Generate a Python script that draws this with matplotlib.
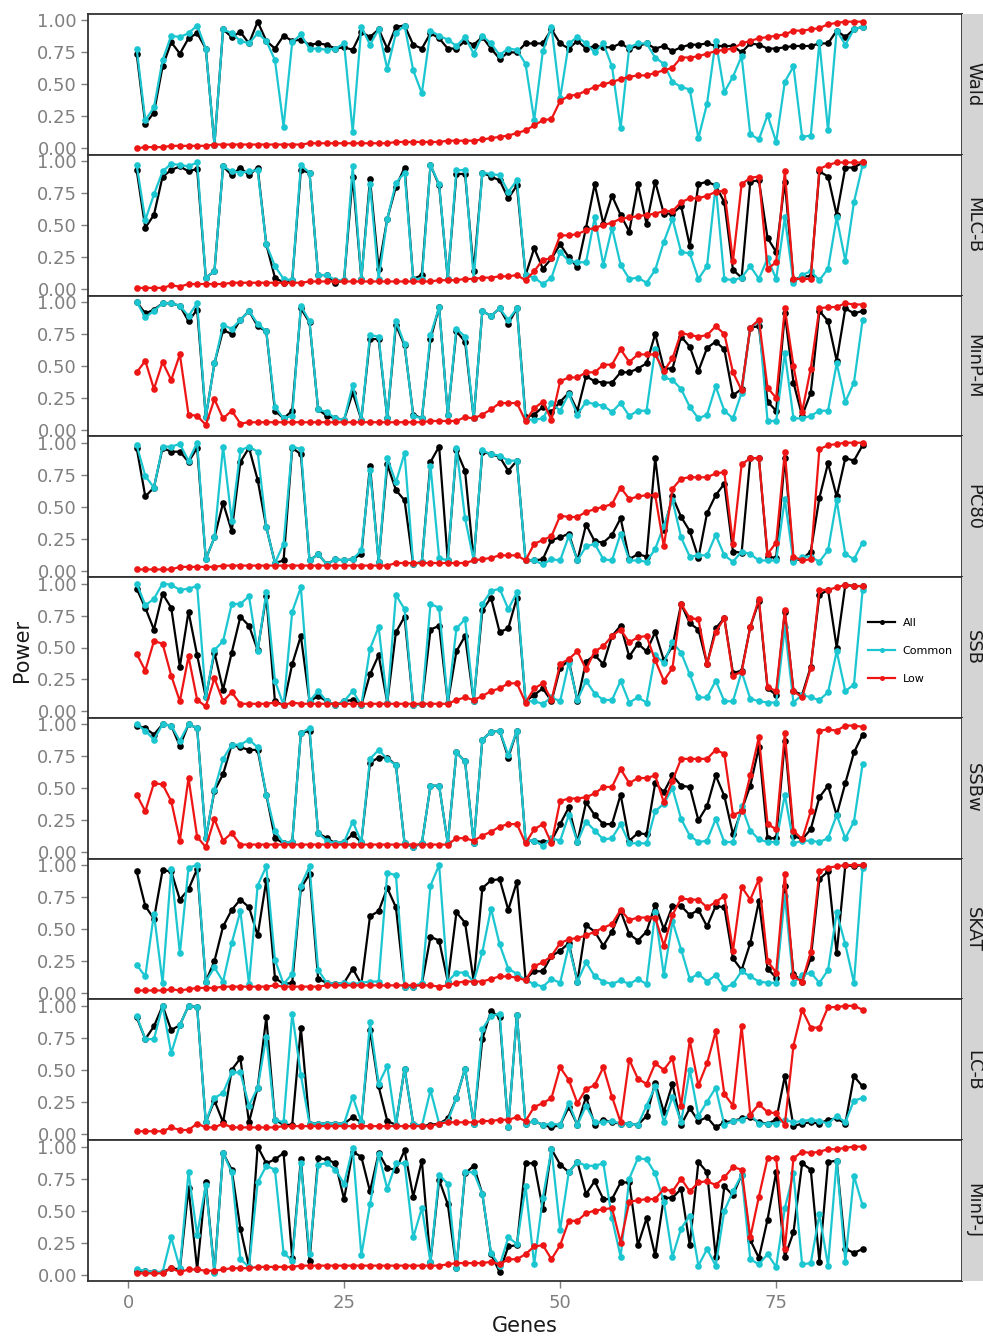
import matplotlib
matplotlib.use("Agg")
import matplotlib.pyplot as plt

genes = list(range(1, 86))
series_names = ["All", "Common", "Low"]
methods = ["Wald", "MLC-B", "MinP-M", "PC80", "SSB", "SSBw", "SKAT", "LC-B", "MinP-J"]

wald_all = [0.74, 0.19, 0.28, 0.64, 0.83, 0.74, 0.86, 0.90, 0.78, 0.03, 0.93, 0.87, 0.91, 0.82, 0.99, 0.84, 0.78, 0.88, 0.84, 0.85,
            0.81, 0.82, 0.81, 0.78, 0.79, 0.77, 0.91, 0.87, 0.93, 0.78, 0.95, 0.96, 0.81, 0.78, 0.90, 0.86, 0.78, 0.78, 0.84, 0.81,
            0.87, 0.78, 0.70, 0.75, 0.75, 0.82, 0.82, 0.82, 0.93, 0.82, 0.78, 0.84, 0.78, 0.80, 0.79, 0.79, 0.82, 0.78, 0.80, 0.82,
            0.78, 0.80, 0.76, 0.79, 0.81, 0.81, 0.82, 0.80, 0.80, 0.80, 0.75, 0.82, 0.81, 0.78, 0.78, 0.79, 0.80, 0.80, 0.80, 0.82,
            0.82, 0.92, 0.87, 0.93, 0.95]
wald_common = [0.78, 0.22, 0.32, 0.69, 0.88, 0.87, 0.90, 0.96, 0.78, 0.03, 0.93, 0.90, 0.84, 0.82, 0.90, 0.84, 0.69, 0.17, 0.83, 0.89,
               0.78, 0.78, 0.77, 0.78, 0.82, 0.13, 0.95, 0.81, 0.93, 0.62, 0.90, 0.96, 0.61, 0.43, 0.92, 0.88, 0.85, 0.80, 0.87, 0.74,
               0.88, 0.82, 0.73, 0.78, 0.77, 0.66, 0.22, 0.76, 0.95, 0.39, 0.82, 0.87, 0.82, 0.75, 0.82, 0.64, 0.16, 0.79, 0.82, 0.82,
               0.71, 0.66, 0.52, 0.48, 0.46, 0.08, 0.35, 0.84, 0.44, 0.56, 0.72, 0.11, 0.07, 0.26, 0.05, 0.52, 0.64, 0.09, 0.10, 0.83,
               0.14, 0.92, 0.81, 0.93, 0.95]
wald_low = [0.00, 0.01, 0.01, 0.01, 0.02, 0.02, 0.02, 0.02, 0.02, 0.03, 0.03, 0.03, 0.03, 0.03, 0.03, 0.03, 0.03, 0.03, 0.03, 0.03,
            0.04, 0.04, 0.04, 0.04, 0.04, 0.04, 0.04, 0.04, 0.04, 0.04, 0.05, 0.05, 0.05, 0.05, 0.05, 0.05, 0.06, 0.06, 0.06, 0.06,
            0.07, 0.08, 0.09, 0.10, 0.12, 0.14, 0.18, 0.22, 0.23, 0.37, 0.41, 0.42, 0.45, 0.48, 0.50, 0.52, 0.54, 0.56, 0.57, 0.57,
            0.59, 0.61, 0.63, 0.71, 0.71, 0.72, 0.74, 0.76, 0.77, 0.78, 0.82, 0.84, 0.86, 0.87, 0.88, 0.89, 0.92, 0.92, 0.93, 0.94,
            0.97, 0.98, 0.99, 0.99, 0.99]

mlcb_all = [0.93, 0.48, 0.58, 0.88, 0.93, 0.96, 0.92, 0.94, 0.09, 0.14, 0.96, 0.89, 0.95, 0.89, 0.95, 0.35, 0.09, 0.05, 0.07, 0.93,
            0.91, 0.11, 0.11, 0.05, 0.07, 0.88, 0.08, 0.86, 0.16, 0.55, 0.80, 0.95, 0.08, 0.11, 0.97, 0.81, 0.08, 0.90, 0.90, 0.14,
            0.91, 0.88, 0.85, 0.71, 0.81, 0.11, 0.32, 0.16, 0.24, 0.35, 0.25, 0.17, 0.48, 0.82, 0.51, 0.73, 0.58, 0.45, 0.82, 0.51,
            0.84, 0.59, 0.59, 0.65, 0.34, 0.82, 0.84, 0.81, 0.68, 0.15, 0.09, 0.84, 0.85, 0.40, 0.29, 0.84, 0.07, 0.10, 0.10, 0.92,
            0.88, 0.58, 0.95, 0.95, 0.99]
mlcb_common = [0.97, 0.54, 0.74, 0.92, 0.98, 0.97, 0.96, 0.99, 0.09, 0.14, 0.96, 0.92, 0.91, 0.92, 0.93, 0.35, 0.18, 0.08, 0.07, 0.97,
               0.91, 0.11, 0.11, 0.07, 0.07, 0.96, 0.08, 0.82, 0.08, 0.55, 0.83, 0.91, 0.08, 0.08, 0.97, 0.82, 0.08, 0.93, 0.93, 0.08,
               0.91, 0.90, 0.89, 0.76, 0.85, 0.11, 0.09, 0.04, 0.09, 0.29, 0.22, 0.21, 0.21, 0.56, 0.19, 0.48, 0.19, 0.08, 0.09, 0.05,
               0.15, 0.37, 0.55, 0.29, 0.28, 0.08, 0.18, 0.81, 0.08, 0.07, 0.09, 0.18, 0.08, 0.24, 0.08, 0.56, 0.05, 0.11, 0.14, 0.07,
               0.16, 0.56, 0.22, 0.68, 0.97]
mlcb_low = [0.01, 0.01, 0.01, 0.01, 0.03, 0.02, 0.04, 0.04, 0.04, 0.04, 0.04, 0.05, 0.05, 0.05, 0.05, 0.05, 0.05, 0.05, 0.05, 0.05,
            0.06, 0.06, 0.06, 0.06, 0.06, 0.06, 0.06, 0.06, 0.06, 0.06, 0.06, 0.06, 0.06, 0.06, 0.06, 0.07, 0.07, 0.07, 0.08, 0.08,
            0.09, 0.09, 0.10, 0.10, 0.11, 0.07, 0.14, 0.23, 0.24, 0.42, 0.42, 0.43, 0.46, 0.48, 0.50, 0.52, 0.55, 0.56, 0.57, 0.58,
            0.59, 0.61, 0.61, 0.68, 0.71, 0.71, 0.73, 0.76, 0.77, 0.22, 0.82, 0.87, 0.88, 0.16, 0.21, 0.92, 0.08, 0.08, 0.08, 0.94,
            0.97, 0.99, 0.99, 0.99, 0.99]

minpm_all = [1.00, 0.91, 0.94, 0.99, 0.99, 0.97, 0.85, 0.94, 0.10, 0.52, 0.78, 0.75, 0.86, 0.93, 0.81, 0.77, 0.15, 0.09, 0.15, 0.95,
             0.84, 0.16, 0.11, 0.09, 0.08, 0.29, 0.08, 0.71, 0.71, 0.09, 0.82, 0.66, 0.12, 0.09, 0.71, 0.96, 0.12, 0.77, 0.69, 0.09,
             0.93, 0.89, 0.95, 0.83, 0.95, 0.10, 0.12, 0.18, 0.14, 0.22, 0.29, 0.15, 0.42, 0.38, 0.37, 0.37, 0.45, 0.45, 0.48, 0.52,
             0.75, 0.48, 0.48, 0.73, 0.65, 0.46, 0.64, 0.69, 0.63, 0.27, 0.32, 0.80, 0.81, 0.22, 0.15, 0.91, 0.37, 0.11, 0.29, 0.93,
             0.85, 0.54, 0.95, 0.91, 0.93]
minpm_common = [1.00, 0.88, 0.93, 0.99, 0.99, 0.97, 0.89, 0.99, 0.10, 0.52, 0.82, 0.79, 0.86, 0.93, 0.83, 0.77, 0.18, 0.09, 0.11, 0.97,
                0.85, 0.16, 0.14, 0.09, 0.08, 0.35, 0.08, 0.74, 0.73, 0.09, 0.85, 0.67, 0.11, 0.09, 0.74, 0.96, 0.12, 0.79, 0.73, 0.09,
                0.93, 0.89, 0.95, 0.86, 0.95, 0.08, 0.08, 0.09, 0.21, 0.15, 0.28, 0.12, 0.22, 0.20, 0.19, 0.14, 0.21, 0.11, 0.15, 0.15,
                0.63, 0.41, 0.39, 0.32, 0.18, 0.09, 0.12, 0.34, 0.15, 0.09, 0.29, 0.80, 0.85, 0.07, 0.07, 0.60, 0.09, 0.09, 0.11, 0.15,
                0.15, 0.52, 0.22, 0.37, 0.86]
minpm_low = [0.45, 0.54, 0.32, 0.53, 0.39, 0.59, 0.12, 0.11, 0.04, 0.24, 0.09, 0.15, 0.05, 0.06, 0.06, 0.06, 0.06, 0.06, 0.06, 0.06,
             0.06, 0.06, 0.06, 0.06, 0.06, 0.06, 0.06, 0.06, 0.06, 0.06, 0.06, 0.06, 0.06, 0.06, 0.07, 0.07, 0.07, 0.07, 0.10, 0.09,
             0.12, 0.16, 0.21, 0.21, 0.21, 0.07, 0.17, 0.22, 0.08, 0.38, 0.41, 0.41, 0.45, 0.45, 0.51, 0.51, 0.63, 0.53, 0.59, 0.59,
             0.59, 0.46, 0.56, 0.76, 0.74, 0.73, 0.74, 0.81, 0.75, 0.45, 0.31, 0.80, 0.86, 0.33, 0.25, 0.95, 0.50, 0.14, 0.48, 0.95,
             0.96, 0.96, 0.99, 0.98, 0.98]

pc80_all = [0.96, 0.58, 0.65, 0.96, 0.93, 0.93, 0.85, 0.96, 0.09, 0.26, 0.53, 0.31, 0.85, 0.96, 0.71, 0.34, 0.06, 0.08, 0.96, 0.91,
            0.08, 0.13, 0.05, 0.09, 0.08, 0.09, 0.13, 0.82, 0.07, 0.83, 0.63, 0.55, 0.05, 0.07, 0.85, 0.97, 0.08, 0.94, 0.78, 0.08,
            0.93, 0.91, 0.89, 0.78, 0.86, 0.08, 0.08, 0.09, 0.24, 0.26, 0.29, 0.08, 0.36, 0.23, 0.22, 0.28, 0.41, 0.09, 0.13, 0.11,
            0.88, 0.32, 0.58, 0.42, 0.31, 0.10, 0.45, 0.59, 0.68, 0.15, 0.14, 0.88, 0.88, 0.11, 0.10, 0.88, 0.08, 0.09, 0.15, 0.57,
            0.84, 0.58, 0.88, 0.86, 0.98]
pc80_common = [0.98, 0.74, 0.65, 0.97, 0.97, 0.99, 0.86, 1.00, 0.09, 0.26, 0.97, 0.39, 0.94, 0.97, 0.93, 0.34, 0.06, 0.21, 0.97, 0.95,
               0.08, 0.13, 0.05, 0.09, 0.08, 0.09, 0.16, 0.79, 0.07, 0.88, 0.69, 0.92, 0.05, 0.07, 0.82, 0.10, 0.08, 0.96, 0.41, 0.08,
               0.94, 0.91, 0.90, 0.86, 0.86, 0.08, 0.08, 0.05, 0.09, 0.08, 0.27, 0.08, 0.19, 0.21, 0.09, 0.08, 0.29, 0.08, 0.08, 0.07,
               0.17, 0.35, 0.55, 0.26, 0.11, 0.12, 0.12, 0.28, 0.12, 0.07, 0.15, 0.13, 0.08, 0.08, 0.08, 0.56, 0.07, 0.11, 0.11, 0.07,
               0.16, 0.55, 0.13, 0.09, 0.22]
pc80_low = [0.01, 0.01, 0.01, 0.01, 0.01, 0.03, 0.03, 0.03, 0.03, 0.03, 0.04, 0.04, 0.04, 0.04, 0.04, 0.04, 0.04, 0.04, 0.04, 0.04,
            0.04, 0.04, 0.04, 0.04, 0.04, 0.04, 0.04, 0.04, 0.04, 0.04, 0.06, 0.06, 0.06, 0.06, 0.06, 0.06, 0.06, 0.06, 0.06, 0.08,
            0.09, 0.10, 0.12, 0.12, 0.12, 0.08, 0.21, 0.24, 0.27, 0.43, 0.42, 0.42, 0.46, 0.48, 0.50, 0.52, 0.65, 0.56, 0.58, 0.59,
            0.59, 0.19, 0.64, 0.72, 0.73, 0.73, 0.73, 0.76, 0.77, 0.21, 0.83, 0.88, 0.88, 0.13, 0.22, 0.93, 0.11, 0.08, 0.09, 0.95,
            0.98, 0.99, 1.00, 1.00, 1.00]

ssb_all = [0.96, 0.81, 0.64, 0.92, 0.81, 0.35, 0.78, 0.44, 0.11, 0.46, 0.17, 0.46, 0.74, 0.67, 0.48, 0.90, 0.08, 0.05, 0.37, 0.59,
           0.08, 0.12, 0.08, 0.05, 0.08, 0.09, 0.05, 0.29, 0.44, 0.07, 0.62, 0.74, 0.05, 0.06, 0.64, 0.67, 0.07, 0.47, 0.59, 0.08,
           0.79, 0.89, 0.62, 0.65, 0.89, 0.08, 0.13, 0.18, 0.08, 0.34, 0.40, 0.08, 0.39, 0.44, 0.37, 0.59, 0.67, 0.43, 0.53, 0.47,
           0.62, 0.40, 0.51, 0.84, 0.69, 0.64, 0.37, 0.65, 0.73, 0.30, 0.32, 0.66, 0.86, 0.18, 0.13, 0.78, 0.16, 0.13, 0.35, 0.91,
           0.95, 0.50, 0.99, 0.98, 0.98]
ssb_common = [1.00, 0.83, 0.88, 1.00, 0.99, 0.95, 0.96, 0.98, 0.11, 0.48, 0.55, 0.84, 0.84, 0.90, 0.47, 0.93, 0.24, 0.05, 0.78, 0.97,
              0.08, 0.16, 0.08, 0.05, 0.08, 0.16, 0.05, 0.49, 0.66, 0.07, 0.91, 0.80, 0.05, 0.06, 0.84, 0.81, 0.07, 0.65, 0.72, 0.08,
              0.84, 0.94, 0.96, 0.80, 0.93, 0.08, 0.08, 0.06, 0.11, 0.08, 0.38, 0.09, 0.24, 0.14, 0.09, 0.09, 0.24, 0.07, 0.11, 0.07,
              0.44, 0.38, 0.54, 0.46, 0.29, 0.11, 0.11, 0.24, 0.08, 0.08, 0.31, 0.10, 0.08, 0.07, 0.07, 0.66, 0.07, 0.13, 0.11, 0.09,
              0.15, 0.47, 0.16, 0.21, 0.95]
ssb_low = [0.45, 0.32, 0.55, 0.53, 0.28, 0.08, 0.43, 0.09, 0.04, 0.26, 0.08, 0.15, 0.06, 0.06, 0.06, 0.06, 0.07, 0.05, 0.07, 0.06,
           0.06, 0.06, 0.06, 0.06, 0.06, 0.06, 0.06, 0.06, 0.06, 0.06, 0.06, 0.06, 0.06, 0.06, 0.06, 0.06, 0.06, 0.09, 0.11, 0.09,
           0.12, 0.16, 0.18, 0.22, 0.22, 0.07, 0.18, 0.22, 0.09, 0.37, 0.41, 0.47, 0.33, 0.47, 0.51, 0.59, 0.64, 0.54, 0.58, 0.59,
           0.40, 0.24, 0.34, 0.84, 0.73, 0.72, 0.37, 0.62, 0.73, 0.28, 0.31, 0.66, 0.88, 0.19, 0.16, 0.79, 0.16, 0.11, 0.34, 0.95,
           0.95, 0.97, 0.99, 0.98, 0.98]

ssbw_all = [0.99, 0.97, 0.92, 1.00, 0.99, 0.83, 1.00, 0.97, 0.11, 0.48, 0.61, 0.84, 0.82, 0.80, 0.80, 0.45, 0.11, 0.07, 0.08, 0.93,
            0.95, 0.15, 0.11, 0.07, 0.08, 0.14, 0.08, 0.70, 0.74, 0.74, 0.68, 0.07, 0.04, 0.07, 0.52, 0.52, 0.07, 0.78, 0.71, 0.07,
            0.88, 0.94, 0.95, 0.74, 0.95, 0.09, 0.09, 0.08, 0.09, 0.22, 0.35, 0.08, 0.39, 0.29, 0.22, 0.22, 0.45, 0.09, 0.15, 0.14,
            0.54, 0.47, 0.60, 0.52, 0.51, 0.25, 0.36, 0.60, 0.44, 0.14, 0.33, 0.52, 0.82, 0.11, 0.11, 0.87, 0.13, 0.10, 0.18, 0.43,
            0.52, 0.29, 0.54, 0.78, 0.92]
ssbw_common = [1.00, 0.95, 0.88, 1.00, 0.99, 0.87, 1.00, 0.97, 0.11, 0.49, 0.73, 0.84, 0.84, 0.88, 0.82, 0.45, 0.17, 0.07, 0.08, 0.93,
               0.97, 0.15, 0.09, 0.07, 0.08, 0.24, 0.08, 0.73, 0.80, 0.73, 0.68, 0.07, 0.04, 0.07, 0.52, 0.52, 0.07, 0.78, 0.71, 0.07,
               0.88, 0.94, 0.95, 0.76, 0.95, 0.09, 0.09, 0.05, 0.11, 0.09, 0.29, 0.08, 0.24, 0.17, 0.10, 0.11, 0.22, 0.07, 0.07, 0.07,
               0.32, 0.38, 0.50, 0.26, 0.13, 0.08, 0.09, 0.26, 0.08, 0.08, 0.36, 0.17, 0.10, 0.08, 0.08, 0.45, 0.07, 0.09, 0.09, 0.08,
               0.11, 0.29, 0.11, 0.24, 0.69]
ssbw_low = [0.45, 0.32, 0.54, 0.53, 0.40, 0.09, 0.58, 0.12, 0.04, 0.26, 0.09, 0.15, 0.06, 0.06, 0.06, 0.06, 0.06, 0.06, 0.06, 0.06,
            0.06, 0.06, 0.06, 0.06, 0.06, 0.06, 0.06, 0.06, 0.06, 0.06, 0.06, 0.06, 0.06, 0.06, 0.06, 0.06, 0.06, 0.11, 0.11, 0.09,
            0.13, 0.16, 0.20, 0.22, 0.22, 0.07, 0.18, 0.22, 0.07, 0.40, 0.42, 0.42, 0.43, 0.46, 0.51, 0.51, 0.65, 0.54, 0.58, 0.58,
            0.60, 0.39, 0.56, 0.73, 0.73, 0.73, 0.73, 0.80, 0.77, 0.29, 0.32, 0.60, 0.90, 0.22, 0.18, 0.93, 0.17, 0.10, 0.32, 0.95,
            0.96, 0.95, 0.99, 0.99, 0.98]

skat_all = [0.95, 0.68, 0.58, 0.96, 0.95, 0.73, 0.81, 0.97, 0.09, 0.25, 0.52, 0.65, 0.73, 0.67, 0.45, 0.88, 0.12, 0.07, 0.08, 0.82,
            0.93, 0.11, 0.08, 0.07, 0.08, 0.19, 0.07, 0.60, 0.64, 0.82, 0.67, 0.05, 0.05, 0.07, 0.44, 0.41, 0.09, 0.63, 0.55, 0.09,
            0.82, 0.88, 0.89, 0.65, 0.87, 0.11, 0.17, 0.17, 0.29, 0.33, 0.39, 0.09, 0.53, 0.48, 0.37, 0.48, 0.64, 0.46, 0.41, 0.48,
            0.69, 0.50, 0.68, 0.68, 0.61, 0.65, 0.52, 0.68, 0.67, 0.27, 0.18, 0.39, 0.72, 0.19, 0.12, 0.84, 0.15, 0.09, 0.27, 0.89,
            0.95, 0.31, 1.00, 0.99, 1.00]
skat_common = [0.22, 0.13, 0.62, 0.08, 0.97, 0.31, 0.98, 1.00, 0.09, 0.20, 0.09, 0.39, 0.64, 0.07, 0.84, 0.99, 0.26, 0.07, 0.15, 0.84,
               0.99, 0.18, 0.08, 0.07, 0.08, 0.07, 0.08, 0.09, 0.09, 0.94, 0.92, 0.05, 0.05, 0.08, 0.84, 1.00, 0.09, 0.16, 0.16, 0.09,
               0.32, 0.66, 0.38, 0.19, 0.15, 0.10, 0.07, 0.05, 0.11, 0.08, 0.37, 0.09, 0.24, 0.13, 0.09, 0.07, 0.10, 0.07, 0.11, 0.07,
               0.63, 0.14, 0.56, 0.34, 0.11, 0.15, 0.09, 0.14, 0.04, 0.07, 0.17, 0.13, 0.09, 0.08, 0.08, 0.76, 0.08, 0.14, 0.16, 0.08,
               0.18, 0.63, 0.38, 0.08, 0.98]
skat_low = [0.02, 0.02, 0.02, 0.02, 0.03, 0.02, 0.03, 0.04, 0.04, 0.04, 0.05, 0.05, 0.05, 0.05, 0.05, 0.05, 0.06, 0.05, 0.05, 0.05,
            0.05, 0.05, 0.06, 0.06, 0.06, 0.06, 0.06, 0.06, 0.06, 0.06, 0.06, 0.06, 0.06, 0.06, 0.06, 0.05, 0.06, 0.08, 0.09, 0.09,
            0.09, 0.11, 0.13, 0.13, 0.12, 0.10, 0.21, 0.24, 0.29, 0.39, 0.42, 0.43, 0.45, 0.48, 0.51, 0.54, 0.65, 0.57, 0.59, 0.59,
            0.59, 0.37, 0.61, 0.74, 0.73, 0.73, 0.67, 0.71, 0.76, 0.33, 0.83, 0.73, 0.89, 0.25, 0.16, 0.93, 0.13, 0.09, 0.32, 0.95,
            0.98, 0.99, 1.00, 1.00, 1.00]

lcb_all = [0.91, 0.74, 0.84, 1.00, 0.81, 0.85, 1.00, 0.99, 0.09, 0.26, 0.09, 0.50, 0.59, 0.09, 0.36, 0.91, 0.11, 0.07, 0.07, 0.83,
           0.08, 0.08, 0.08, 0.08, 0.08, 0.13, 0.09, 0.81, 0.37, 0.10, 0.07, 0.51, 0.08, 0.06, 0.07, 0.08, 0.12, 0.28, 0.51, 0.08,
           0.74, 0.96, 0.91, 0.05, 0.93, 0.08, 0.10, 0.07, 0.05, 0.07, 0.21, 0.07, 0.29, 0.07, 0.11, 0.09, 0.08, 0.08, 0.07, 0.14,
           0.40, 0.17, 0.39, 0.07, 0.20, 0.10, 0.13, 0.05, 0.09, 0.10, 0.12, 0.13, 0.09, 0.08, 0.11, 0.45, 0.06, 0.08, 0.09, 0.08,
           0.11, 0.12, 0.08, 0.45, 0.37]
lcb_common = [0.92, 0.74, 0.74, 1.00, 0.63, 0.85, 1.00, 0.99, 0.09, 0.28, 0.32, 0.48, 0.48, 0.22, 0.36, 0.76, 0.11, 0.09, 0.94, 0.46,
              0.08, 0.08, 0.08, 0.08, 0.08, 0.29, 0.09, 0.87, 0.39, 0.53, 0.07, 0.51, 0.08, 0.06, 0.34, 0.08, 0.10, 0.28, 0.51, 0.08,
              0.82, 0.92, 0.94, 0.05, 0.93, 0.08, 0.10, 0.07, 0.08, 0.07, 0.24, 0.07, 0.22, 0.09, 0.09, 0.10, 0.08, 0.08, 0.07, 0.22,
              0.37, 0.09, 0.29, 0.09, 0.50, 0.14, 0.25, 0.36, 0.07, 0.10, 0.11, 0.15, 0.08, 0.08, 0.08, 0.11, 0.09, 0.10, 0.11, 0.10,
              0.08, 0.14, 0.09, 0.26, 0.28]
lcb_low = [0.02, 0.02, 0.02, 0.02, 0.05, 0.03, 0.03, 0.08, 0.05, 0.05, 0.08, 0.05, 0.05, 0.05, 0.05, 0.05, 0.05, 0.06, 0.06, 0.06,
           0.06, 0.06, 0.06, 0.06, 0.06, 0.06, 0.06, 0.06, 0.06, 0.06, 0.06, 0.06, 0.06, 0.06, 0.06, 0.08, 0.09, 0.09, 0.09, 0.09,
           0.10, 0.10, 0.11, 0.11, 0.13, 0.10, 0.21, 0.24, 0.28, 0.52, 0.42, 0.24, 0.35, 0.38, 0.52, 0.29, 0.09, 0.58, 0.43, 0.39,
           0.55, 0.50, 0.59, 0.22, 0.73, 0.38, 0.55, 0.80, 0.31, 0.22, 0.84, 0.15, 0.23, 0.17, 0.16, 0.07, 0.69, 0.97, 0.83, 0.83,
           0.99, 0.99, 1.00, 1.00, 0.97]

minpj_all = [0.03, 0.03, 0.02, 0.02, 0.05, 0.04, 0.68, 0.04, 0.72, 0.02, 0.95, 0.82, 0.36, 0.06, 1.00, 0.87, 0.90, 0.95, 0.13, 0.90,
             0.11, 0.91, 0.90, 0.87, 0.59, 0.96, 0.92, 0.65, 0.95, 0.83, 0.82, 0.97, 0.61, 0.89, 0.10, 0.74, 0.55, 0.05, 0.79, 0.85,
             0.63, 0.16, 0.02, 0.22, 0.23, 0.87, 0.87, 0.51, 0.98, 0.86, 0.80, 0.88, 0.63, 0.73, 0.59, 0.59, 0.72, 0.72, 0.23, 0.44,
             0.15, 0.60, 0.60, 0.67, 0.23, 0.88, 0.80, 0.14, 0.69, 0.62, 0.78, 0.27, 0.13, 0.43, 0.80, 0.14, 0.33, 0.87, 0.82, 0.10,
             0.88, 0.89, 0.20, 0.17, 0.20]
minpj_common = [0.04, 0.03, 0.02, 0.02, 0.29, 0.05, 0.80, 0.31, 0.70, 0.01, 0.95, 0.80, 0.12, 0.06, 0.72, 0.85, 0.82, 0.17, 0.11, 0.87,
                0.16, 0.86, 0.87, 0.82, 0.71, 0.99, 0.15, 0.55, 0.94, 0.67, 0.87, 0.87, 0.29, 0.52, 0.10, 0.78, 0.71, 0.05, 0.80, 0.80,
                0.63, 0.17, 0.07, 0.29, 0.24, 0.69, 0.08, 0.60, 0.98, 0.35, 0.80, 0.88, 0.85, 0.85, 0.87, 0.44, 0.14, 0.75, 0.91, 0.90,
                0.79, 0.57, 0.14, 0.36, 0.46, 0.07, 0.20, 0.07, 0.50, 0.65, 0.78, 0.12, 0.08, 0.16, 0.06, 0.52, 0.79, 0.08, 0.09, 0.47,
                0.07, 0.89, 0.10, 0.77, 0.54]
minpj_low = [0.01, 0.01, 0.01, 0.01, 0.05, 0.02, 0.04, 0.04, 0.03, 0.03, 0.04, 0.05, 0.05, 0.05, 0.06, 0.06, 0.06, 0.06, 0.06, 0.07,
             0.07, 0.07, 0.07, 0.07, 0.07, 0.07, 0.07, 0.07, 0.07, 0.07, 0.07, 0.07, 0.07, 0.07, 0.07, 0.07, 0.08, 0.09, 0.09, 0.09,
             0.09, 0.10, 0.08, 0.12, 0.12, 0.16, 0.22, 0.23, 0.12, 0.23, 0.42, 0.42, 0.48, 0.50, 0.51, 0.52, 0.25, 0.57, 0.58, 0.59,
             0.59, 0.67, 0.65, 0.75, 0.65, 0.72, 0.73, 0.70, 0.76, 0.84, 0.82, 0.29, 0.61, 0.91, 0.91, 0.20, 0.91, 0.96, 0.95, 0.96,
             0.98, 0.98, 0.99, 1.00, 1.00]

panel_data = [
    (wald_all, wald_common, wald_low),
    (mlcb_all, mlcb_common, mlcb_low),
    (minpm_all, minpm_common, minpm_low),
    (pc80_all, pc80_common, pc80_low),
    (ssb_all, ssb_common, ssb_low),
    (ssbw_all, ssbw_common, ssbw_low),
    (skat_all, skat_common, skat_low),
    (lcb_all, lcb_common, lcb_low),
    (minpj_all, minpj_common, minpj_low),
]

colors = ["#000000", "#1cc6d0", "#ee1515"]
grey = "#7f7f7f"

W, H = 983, 1337
fig = plt.figure(figsize=(W / 100, H / 100), dpi=100)

left_px, right_px = 88, 962
top_px, bottom_px = 14, 1281
ph = (bottom_px - top_px) / 9

handles = []
for i, name in enumerate(methods):
    y0 = top_px + i * ph
    ax = fig.add_axes([left_px / W, 1 - (y0 + ph) / H, (right_px - left_px) / W, ph / H])
    for j, s in enumerate(panel_data[i]):
        ln, = ax.plot(genes, s, color=colors[j], lw=1.6, marker="o", ms=4.8,
                      markeredgewidth=0, label=series_names[j], zorder=2 + j)
        if i == 0:
            handles.append(ln)
    ax.set_xlim(-4.63, 96.5)
    ax.set_ylim(-0.05, 1.05)
    ax.set_yticks([0, 0.25, 0.5, 0.75, 1.0])
    ax.set_yticklabels(["0.00", "0.25", "0.50", "0.75", "1.00"])
    ax.tick_params(axis="y", colors=grey, labelsize=13, length=5, width=1, pad=3)
    ax.set_xticks([0, 25, 50, 75])
    if i < 8:
        ax.tick_params(axis="x", bottom=False, labelbottom=False)
    else:
        ax.tick_params(axis="x", colors=grey, labelsize=13, length=5, width=1, pad=4)
    for sp in ax.spines.values():
        sp.set_color("#333333")
        sp.set_linewidth(1.3)

    # grey facet strip on the right
    sax = fig.add_axes([right_px / W, 1 - (y0 + ph) / H, 40 / W, ph / H])
    sax.set_facecolor("#d4d4d4")
    sax.set_xticks([])
    sax.set_yticks([])
    for sp in sax.spines.values():
        sp.set_visible(False)
    fig.text(973 / W, 1 - (y0 + ph / 2) / H, name, rotation=270, ha="center", va="center",
             fontsize=13, color="#1a1a1a")

fig.legend(handles=handles, labels=series_names, loc="center left",
           bbox_to_anchor=(866 / W, 1 - 651 / H), frameon=False, fontsize=8,
           handlelength=2.4, handletextpad=0.7, labelspacing=1.6, markerscale=0.75,
           borderpad=0.2, borderaxespad=0.0)

fig.text(22 / W, 1 - 650 / H, "Power", rotation=90, ha="center", va="center", fontsize=15, color="#1a1a1a")
fig.text(525 / W, 1 - 1326 / H, "Genes", ha="center", va="center", fontsize=15, color="#1a1a1a")

fig.savefig("out.png", dpi=100)
